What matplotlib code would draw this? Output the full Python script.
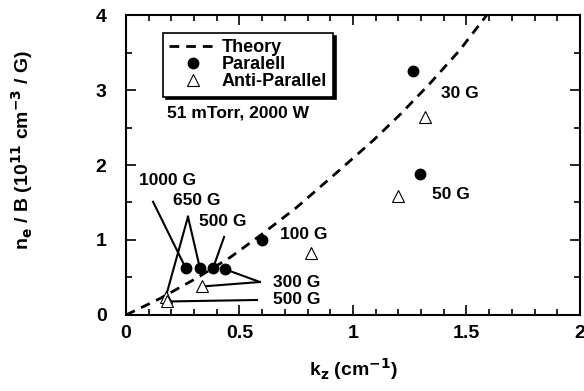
import numpy as np
import matplotlib
matplotlib.use('Agg')
import matplotlib.pyplot as plt
from matplotlib.ticker import MultipleLocator

plt.rcParams['font.family'] = ['Liberation Sans', 'DejaVu Sans']
plt.rcParams['font.weight'] = 'bold'
plt.rcParams['mathtext.default'] = 'bf'

# ---------------- data
kz_theory = [0, 0.15, 0.31, 0.46, 0.60, 0.75, 0.94, 1.09, 1.21, 1.34, 1.47, 1.59]
ne_theory = [0, 0.22, 0.49, 0.77, 1.08, 1.43, 1.93, 2.33, 2.68, 3.09, 3.53, 4.0]

kz_par = [0.264, 0.326, 0.383, 0.436, 0.60, 1.265, 1.295]
ne_par = [0.62, 0.62, 0.62, 0.61, 1.0, 3.25, 1.88]

kz_anti = [0.175, 0.18, 0.335, 0.815, 1.317, 1.20]
ne_anti = [0.24, 0.18, 0.38, 0.82, 2.64, 1.58]

x_ticks = [0, 0.5, 1, 1.5, 2]
x_ticklabels = ['0', '0.5', '1', '1.5', '2']
y_ticks = [0, 1, 2, 3, 4]
y_ticklabels = ['0', '1', '2', '3', '4']

# labels: text, x, y
field_labels = [('1000 G', 0.057, 1.79), ('650 G', 0.207, 1.53),
                ('500 G', 0.32, 1.24), ('100 G', 0.678, 1.07),
                ('300 G', 0.648, 0.43), ('500 G', 0.648, 0.20),
                ('30 G', 1.39, 2.96), ('50 G', 1.35, 1.60)]

# leader lines: start point -> list of (series, index) it points to
leaders = [((0.119, 1.51), [('p', 0)]),
           ((0.273, 1.31), [('p', 1), ('a', 0)]),
           ((0.432, 1.04), [('p', 2)]),
           ((0.59, 0.44), [('p', 3), ('a', 2)]),
           ((0.577, 0.20), [('a', 1)])]

fig = plt.figure(figsize=(5.84, 3.91), dpi=100)
ax = fig.add_axes([0.2158, 0.1944, 0.7772, 0.7672])

ax.plot(kz_theory, ne_theory, 'k--', lw=2, dashes=(3.5, 2.5), label='Theory')
for start, targets in leaders:
    for s, i in targets:
        tx = kz_par[i] if s == 'p' else kz_anti[i]
        ty = ne_par[i] if s == 'p' else ne_anti[i]
        ax.plot([start[0], tx], [start[1], ty], 'k-', lw=1.5, zorder=2)
ax.plot(kz_par, ne_par, 'o', color='k', ms=7.5, ls='none', label='Paralell', zorder=4)
ax.plot(kz_anti, ne_anti, '^', mfc='white', mec='k', mew=0.8, ms=9, ls='none',
        label='Anti-Parallel', zorder=4)

for t, x, y in field_labels:
    ax.text(x, y, t, fontsize=12.5, fontweight='bold', ha='left', va='center')
ax.text(0.18, 2.69, '51 mTorr, 2000 W', fontsize=12.5, fontweight='bold',
        ha='left', va='center')

leg = ax.legend(loc='upper left', bbox_to_anchor=(0.0815, 0.94), borderaxespad=0,
                fancybox=False, edgecolor='k', framealpha=1,
                shadow={'color': 'black', 'alpha': 1},
                prop={'weight': 'bold', 'size': 13}, handlelength=2.6,
                handletextpad=0.3, labelspacing=0.0, borderpad=0.35)
leg.get_frame().set_linewidth(1.2)

ax.set_xlim(0, 2)
ax.set_ylim(0, 4)
ax.set_xticks(x_ticks)
ax.set_xticklabels(x_ticklabels)
ax.set_yticks(y_ticks)
ax.set_yticklabels(y_ticklabels)
ax.xaxis.set_minor_locator(MultipleLocator(0.1))
ax.yaxis.set_minor_locator(MultipleLocator(0.5))
ax.tick_params(which='both', direction='in', top=True, right=True, width=1.2,
               labelsize=14)
ax.tick_params(axis='y', pad=14)
ax.tick_params(axis='x', pad=7)
ax.tick_params(which='major', length=7)
ax.tick_params(which='minor', length=4)
for lab in ax.get_xticklabels() + ax.get_yticklabels():
    lab.set_fontweight('bold')
for sp in ax.spines.values():
    sp.set_linewidth(1.5)

ax.set_xlabel(r'k$_\mathbf{z}$ (cm$^\mathbf{-1}$)', fontsize=14, fontweight='bold', labelpad=10)
fig.text(22 / 584, 1 - 150 / 391, r'n$_\mathbf{e}$ / B (10$^\mathbf{11}$ cm$^\mathbf{-3}$ / G)',
         rotation=90, fontsize=14, fontweight='bold', ha='center', va='center')

fig.savefig('out.png', dpi=100)
